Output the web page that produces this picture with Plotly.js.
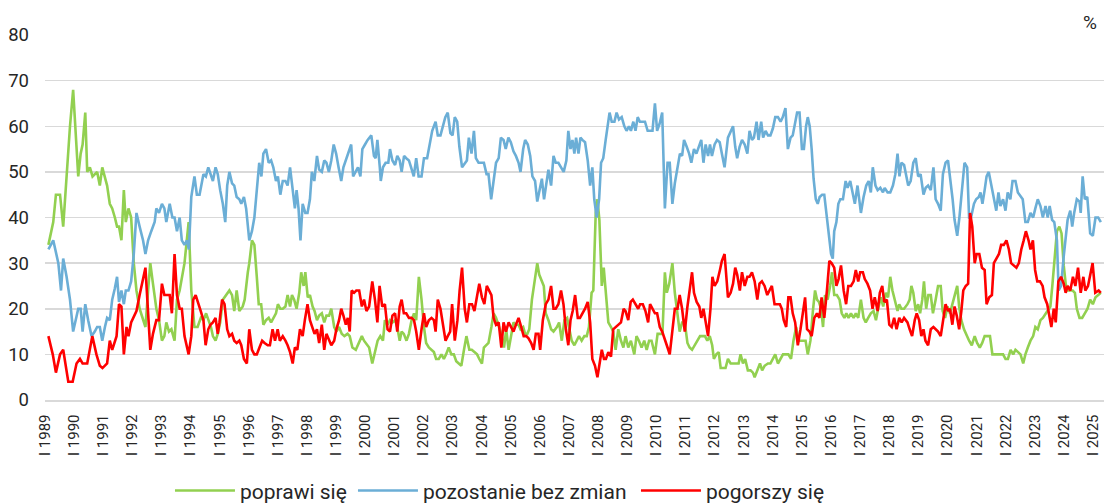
<!DOCTYPE html>
<html><head><meta charset="utf-8">
<script src="https://cdn.plot.ly/plotly-3.0.1.min.js"></script>
<style>html,body{margin:0;padding:0;background:#fff;}#chart{width:1104px;height:503px;}</style>
</head><body><div id="chart"></div>
<script>
// Month offsets since January 1989 (fractional = read position) and percent values
const seriesNames = ["poprawi się", "pozostanie bez zmian", "pogorszy się"];
const yearLabels = ["I 1989","I 1990","I 1991","I 1992","I 1993","I 1994","I 1995","I 1996","I 1997","I 1998","I 1999","I 2000","I 2001","I 2002","I 2003","I 2004","I 2005","I 2006","I 2007","I 2008","I 2009","I 2010","I 2011","I 2012","I 2013","I 2014","I 2015","I 2016","I 2017","I 2018","I 2019","I 2020","I 2021","I 2022","I 2023","I 2024","I 2025"];

const improvePts = [[1.4,34],[3.4,39],[4.5,45],[6.2,45],[7.5,38],[8.9,50],[10.3,60],[11.6,68],[13.7,49],[14.7,54],[15.5,56],[16.6,63],[17.4,50],[18.5,51],[19.6,49],[21.5,50],[22.6,47],[23.6,51],[24.7,49],[25.6,47],[26.7,43],[27.7,42],[28.8,40],[29.7,38],[30.5,38],[31.5,35],[32.5,46],[33.3,39],[34.4,42],[35.5,40],[36.6,30],[37.7,24],[39.0,20],[40.4,17.5],[41.4,16],[42.5,24],[43.4,30],[44.5,25.5],[45.9,20],[47.0,17.5],[48.2,13],[49.2,14],[50.0,17],[51.1,15],[52.1,15.5],[53.4,13],[54.4,22],[55.5,24],[57.5,30],[59.2,39],
[60.3,24],[61.6,16],[62.9,16],[64.2,18],[65.3,17.5],[66.4,19],[68.4,16],[69.2,14],[70.3,13],[71.2,14.5],[72.2,17],[73.3,22],[74.6,23],[76.0,24],[77.1,23],[78.0,19.5],[79.0,24],[80.1,19.5],[81.5,20.5],[82.3,22],[83.6,28],[84.2,30],[85.3,35],[86.3,34],[87.3,27],[88.1,21],[89.1,21],[90.0,16.5],[91.1,17.5],[92.2,18],[93.2,17],[94.1,18],[95.2,19],[96.0,21],[97.0,20],[98.0,20],[99.1,20.5],[100.0,23],[101.0,20.5],[101.8,23],[102.7,22],[103.7,20],[104.8,23.5],[105.6,28],[106.6,25],[107.3,28],[108.3,22.5],[109.2,23],[110.3,20.5],[111.1,19.5],[112.1,17.5],[113.0,18.5],[114.1,19],[115.1,17],[116.0,18.5],[117.1,18.5],[118.0,20],[119.2,16],[120.1,15],[121.2,16],[122.3,14.5],[123.4,14],[124.7,14.5],[125.6,14],[126.7,11.5],[128.1,11],[129.5,12.5],[130.6,14],[131.5,13],[132.9,12],
[133.6,11.5],[134.9,8],[136.0,10.5],[137.1,13],[138.2,14],[139.3,13],[140.1,17.5],[141.2,16.5],[142.2,17.5],[143.2,17],[144.3,17.5],[145.2,16],[146.2,13],[147.0,15],[147.9,14.5],[149.0,13],[150.0,14.5],[151.1,17.5],[152.1,19],[153.0,17.5],[154.1,27],[155.2,22],[156.2,16],[157.1,12.5],[158.2,11.5],[159.3,11],[160.3,10.5],[161.2,9],[162.3,9],[163.4,10],[164.4,9],[165.3,10],[166.4,11.5],[167.5,10],[168.5,10],[169.5,8.5],[170.5,8],[171.6,7.5],[172.7,11],[173.7,14],[174.9,11],[175.9,11],[177.0,10.5],[178.1,10],[179.0,9],[180.1,8],[180.9,11.5],[182.0,12],[182.8,12.5],[184.0,16],[184.9,19],[185.9,18],[187.0,16],[188.1,14.5],[189.2,11.5],[190.1,15.5],[191.1,11],[192.2,14.5],[193.1,17],[194.1,16.5],[195.2,16.5],[196.0,15.5],[197.1,16],[197.9,14.5],[198.8,14.5],[199.6,15.5],[200.7,22],[201.8,26],[202.9,30],[203.7,27.5],[204.8,26],[205.6,25],[206.4,19],
[207.5,17.5],[208.6,15.5],[209.6,15],[211.0,16],[211.9,17],[213.0,13],[214.1,17.5],[215.2,18],[216.2,15.5],[217.1,13],[218.2,12],[219.2,13],[220.1,14],[221.2,13],[222.3,14],[223.3,14],[224.2,16],[225.3,23.5],[226.0,24],[227.0,41],[227.7,44],[228.5,39.5],[229.5,25],[230.3,29],[231.2,22.5],[232.2,17],[233.3,16],[234.2,15],[235.2,11],[236.3,15.5],[237.4,13],[238.4,11.5],[239.3,14],[240.4,11.5],[241.5,13],[242.9,10],[243.8,14],[244.8,13],[245.9,11.5],[247.0,13],[248.0,11],[249.0,13],[250.0,13],[251.4,10],[252.5,14.5],[253.4,14.5],[254.5,14.5],[255.5,28],[256.3,23.5],[257.3,25.5],[258.6,30],[259.6,23.5],[260.7,18],[261.6,15],[262.6,17],[263.7,17],[264.8,12.5],[265.7,11.5],[266.7,11],[267.8,12],[268.9,13],[270.0,14],[270.8,14],[272.0,14],[273.0,13],[274.0,14],[275.0,12],[275.7,9],[276.7,10],[277.7,10.5],[278.5,7],[279.6,7],[280.5,7],
[281.5,9],[282.6,8],[283.7,8],[284.8,8],[285.9,8],[286.7,10],[287.7,8],[288.6,9],[289.7,6.5],[290.8,6.5],[291.8,6],[292.5,5],[293.6,6.5],[294.7,8],[295.6,6.5],[296.6,7.5],[298.0,8],[299.0,8],[300.0,9],[301.0,10],[302.1,8],[303.2,9],[304.2,10],[305.3,10],[306.4,10],[307.5,9],[308.5,13],[309.6,16],[310.6,13],[311.6,13],[312.7,13],[313.5,13],[314.4,10],[315.5,13],[316.5,19.5],[317.4,24],[318.2,22],[319.0,21.5],[319.9,20],[320.7,16],[321.5,23],[322.6,22],[323.6,25],[324.4,28],[325.3,23],[326.4,23],[327.5,22],[328.4,19],[329.5,18],[330.3,19],[331.2,18],[332.2,19],[333.3,18],[334.2,19],[335.2,18],[336.3,22],[337.4,18],[338.3,17],[339.3,18],[340.4,19],[341.5,19.5],[342.5,17.5],[343.4,20],[344.5,22.5],[345.5,20.5],[346.6,23.5],[347.5,22.5],[348.4,27],[349.3,24],[350.3,22],[351.4,19.5],[352.1,21],[353.0,20],[354.1,20],
[355.5,21],[356.4,22],[357.1,25],[357.9,23.5],[358.9,19.5],[359.9,21],[360.7,19],[361.6,22],[362.3,26],[363.2,20],[364.1,23],[365.1,23],[366.0,19],[367.1,22],[368.1,25],[369.2,25],[370.0,19.5],[371.0,18],[372.0,20.5],[373.0,19],[374.0,21],[374.9,22.5],[376.0,25],[376.8,20.5],[377.7,17.5],[378.8,15.5],[379.9,14],[380.9,13],[382.0,12],[383.2,14],[384.2,12.5],[385.3,11.5],[386.3,12.5],[387.3,14],[388.4,14],[389.5,14],[390.5,10],[391.6,10],[392.7,10],[393.8,10],[394.9,10],[395.9,9],[396.9,9],[398.0,11],[399.1,10],[400.0,11],[401.0,10.5],[402.1,10],[403.2,8],[404.1,10],[405.1,11.5],[406.2,13],[407.3,14],[408.2,16],[409.2,15.5],[410.3,17.5],[411.3,18],[412.4,19],[413.3,19.5],[414.4,20.5],[415.2,25],[416.0,30],[417.1,37],[418.1,38],[419.0,36.5],[419.9,29.5],[420.7,25.5],[421.5,24],[422.6,24],[423.6,24],[424.5,23.5],[425.3,20],[426.4,18],[427.5,18],[428.6,19],[429.7,20],[430.8,22],[431.9,21],[433.0,22.5],[434.2,23],[435.2,23.5]];

const samePts = [[1.4,33],[3.4,35],[5.5,30],[6.6,24],[7.5,31],[8.9,27],[10.3,22],[11.6,15],[13.7,20],[14.7,20],[15.5,15],[16.6,21],[17.8,17.5],[19.2,14],[20.5,15],[21.5,16],[22.6,16],[23.6,13],[24.7,16],[25.6,18],[26.7,17.5],[27.7,22],[28.8,24.5],[29.7,27],[30.5,21.5],[31.5,24],[32.5,21],[33.3,24],[34.4,24],[35.5,26],[36.6,32],[37.7,41],[39.0,38],[40.4,35],[41.4,32],[42.5,35],[43.8,37],[45.2,39],[45.9,42],[47.0,41],[48.2,43],[49.2,42],[50.0,39],[51.4,43],[52.5,40],[53.4,40],[54.4,37],[55.5,40],[56.4,35],[57.5,34],[58.5,35],[59.3,33],
[60.3,44.5],[61.6,49],[62.6,45],[63.7,45],[65.3,49.5],[66.3,49],[67.3,51],[68.2,49.5],[69.2,48],[70.3,51],[71.2,49.5],[72.2,46],[73.3,43],[74.3,39],[75.1,47],[76.0,50],[77.1,47.5],[78.0,47],[79.0,44.5],[80.1,44],[80.9,43],[82.0,44.5],[82.9,42],[84.2,35],[85.3,37],[86.3,40],[87.3,47],[88.3,52],[89.2,49],[90.0,54],[91.1,55],[92.2,52],[93.2,52.5],[94.1,51],[95.2,48],[96.0,49],[97.0,45],[98.0,48],[99.1,48],[100.0,47],[101.0,51],[102.1,46.5],[103.0,42],[103.7,46],[104.5,42],[105.3,35],[106.2,43],[107.3,41],[108.2,41],[109.2,44],[110.0,50],[111.0,48],[112.1,53.5],[113.0,50.5],[114.1,50],[115.1,52.5],[116.0,52],[117.0,50],[118.0,52.5],[119.0,56],[120.0,54],[121.0,51],[122.1,48],[123.0,51],[124.0,52.5],[125.0,54],[126.2,56],[127.0,49],[128.1,50],[129.0,51],[130.0,49],[130.8,55],[131.9,56],[133.0,57],
[134.5,58],[135.6,53.5],[136.3,53],[137.0,57],[138.0,51],[138.4,48],[139.3,51],[140.4,52],[141.5,52],[142.2,55],[143.2,52.5],[144.3,51.5],[145.2,53.5],[146.2,52.5],[147.0,50],[148.0,53.5],[148.9,53],[150.0,52.5],[150.9,51],[152.0,49],[153.0,53],[154.0,49],[155.2,49],[156.2,53],[157.5,53],[158.5,55.5],[159.6,59],[161.0,61],[161.9,58],[163.0,58],[163.9,60],[165.0,62],[166.0,63],[167.1,58.5],[168.0,58],[168.9,62],[169.9,61],[170.8,55.5],[171.9,51],[173.0,52],[173.9,52.5],[174.7,57.5],[175.8,54],[176.8,59],[177.6,53],[178.7,52],[179.8,52],[180.9,52],[182.0,49.5],[182.8,49.5],[183.9,44],[184.9,48],[185.9,52],[187.0,53],[187.9,57.5],[189.0,57],[189.9,55],[191.0,57.5],[192.0,56.5],[193.1,54.5],[194.1,53.5],[195.2,52],[196.0,50],[197.1,55],[197.9,57],[199.0,56],[200.0,53.5],[200.9,49],[202.0,48],[202.9,43.5],[203.8,46],[204.8,48.5],[205.7,44],[206.6,47.5],
[207.5,50.5],[208.6,47],[209.6,53.5],[210.5,52],[211.6,52],[212.7,51],[213.8,50],[214.9,52.5],[215.7,59],[216.6,55],[217.4,57],[218.2,54],[218.9,57.5],[219.9,54],[220.7,57.5],[221.5,57],[222.6,56.5],[223.7,52.5],[224.7,47],[225.6,51],[226.4,44],[227.4,40],[228.4,44],[229.2,52],[230.1,53],[231.1,57],[231.9,60],[232.7,63],[233.6,61],[234.7,61],[235.6,63],[236.6,61.5],[237.7,62],[238.8,60],[239.7,59],[240.7,60],[241.5,59],[242.5,61],[243.4,59],[244.3,62],[245.2,61],[246.2,61],[247.3,61],[248.4,59],[249.3,59],[250.4,59],[251.4,65],[252.3,59],[253.3,60.5],[254.4,63],[255.5,42],[256.6,52],[257.5,52],[258.6,43],[259.6,47.5],[260.8,51.5],[261.7,54],[262.6,53.5],[263.4,57],[264.5,55.5],[265.5,54],[266.4,52],[267.5,55],[268.5,54],[269.4,55.5],[270.5,57],[271.4,52],[272.3,56],[273.3,53.5],[274.1,56],[274.9,53.5],[276.0,56],[277.0,57],[278.1,56.5],[279.0,54],[280.1,51],
[281.5,57.5],[282.6,59],[283.6,60],[284.5,55.5],[285.3,53],[286.3,55.5],[287.3,57],[288.4,56],[289.5,54],[290.4,59],[291.4,57],[292.2,57.5],[293.3,61],[294.1,57],[295.2,61],[296.0,57.5],[297.0,59],[298.0,58],[299.0,58],[300.0,59.5],[301.0,62],[302.1,62],[303.2,61],[304.1,62],[305.2,64],[306.2,55],[307.3,57.5],[308.2,58],[309.2,60.5],[310.0,63],[311.0,63],[312.0,55],[312.8,55],[313.7,60],[314.4,62],[315.2,60],[316.0,55],[316.8,48.5],[317.7,44],[318.5,43],[319.3,44.5],[320.3,45],[321.2,45],[322.2,40],[323.2,35],[324.0,32],[324.7,31],[325.3,37],[326.2,39],[327.0,43],[327.8,44],[328.9,44],[330.0,48],[330.8,46.5],[331.9,48],[332.9,45.5],[333.8,43],[334.9,47],[336.3,41],[337.4,44.5],[338.5,47],[339.5,48],[340.4,45.5],[341.2,51],[342.3,47],[343.2,46],[344.3,46.5],[345.4,45.5],[346.1,46.5],[347.3,45.5],[348.4,45.5],[349.5,47],[350.5,49.5],[351.4,54],[352.2,49],[353.0,52],[354.1,51.5],
[355.8,47],[356.8,48],[357.9,52],[358.9,53],[359.9,49],[360.9,49.5],[362.1,45],[363.0,46.5],[364.0,47],[365.1,46],[366.2,51],[367.1,44],[368.1,43],[369.2,41.5],[370.1,49.5],[371.2,52],[372.2,52.5],[373.3,48],[374.1,44],[374.9,39.5],[376.0,36],[376.9,40],[378.1,47],[379.0,52],[380.1,51],[380.9,40],[381.7,40],[382.9,43],[383.8,44],[384.9,44.5],[385.6,45.5],[386.4,43],[387.3,46],[388.1,49],[389.0,50],[390.0,47.5],[391.1,44],[392.1,41.5],[393.0,45.5],[393.8,42.5],[394.9,44],[395.9,41.5],[396.8,45.5],[397.9,44],[398.8,48],[400.0,48],[401.0,45.5],[402.1,44.5],[403.0,44],[404.1,39],[405.1,39],[406.2,41],[407.3,40],[408.2,42],[409.2,44],[410.3,42.5],[411.3,40],[412.4,42.5],[413.3,40],[414.1,42.5],[415.1,39.5],[416.0,39],[417.1,35],[417.8,24],[418.8,25],[419.9,31.5],[420.7,35],[421.5,39.5],[422.6,41.5],[423.4,38],[424.2,41],[425.3,44],[426.4,43.5],[426.9,41],[427.7,49],[428.6,44],[429.6,44.5],[430.8,36.5],[431.9,36],[433.0,40],[434.1,40],[435.2,39]];

const worsePts = [[1.4,14],[3.2,10],[4.5,6],[6.2,10],[7.5,11],[9.6,4],[11.4,4],[13.0,8],[14.4,9],[15.5,8],[17.4,8],[19.5,14],[21.2,10],[22.6,7.5],[23.7,7],[25.6,8],[26.7,13],[27.7,11],[29.5,14],[30.5,21],[31.5,20.5],[32.5,10],[33.6,16],[34.4,14],[35.5,17],[37.7,19.5],[39.0,23],[41.4,29],[43.4,11],[44.5,14.5],[45.9,17.5],[47.0,17.5],[48.2,25.5],[49.2,23],[50.0,23],[51.4,23],[52.3,19],[53.4,32],[54.4,23],[55.5,20],[56.4,20],[57.5,14],[59.2,10],
[60.3,14],[61.1,22],[62.1,23],[64.2,19.5],[65.3,17.5],[66.2,12],[67.3,15.5],[68.2,16.5],[69.2,17],[70.3,18],[71.2,14.5],[71.9,17],[73.0,22],[74.0,21],[75.1,15.5],[76.0,14],[77.1,14.5],[78.0,13],[79.0,12.5],[80.1,13],[80.9,12],[82.0,9],[83.2,8],[84.2,15.5],[85.3,11],[86.3,10],[87.3,10],[88.4,11.5],[89.5,13],[90.5,12.5],[91.8,12],[92.7,12],[93.8,15.5],[94.8,13],[95.9,15.5],[96.8,13],[98.0,14],[99.1,13],[100.0,12],[101.0,10.5],[102.1,8],[103.0,11.5],[104.0,11],[105.1,15.5],[106.2,14],[107.1,17.5],[108.2,21],[109.2,17.5],[110.3,15.5],[111.1,14.5],[112.1,15.5],[113.0,12.5],[114.1,16.5],[115.1,11],[116.0,14.5],[117.1,13],[118.0,12],[119.2,13],[120.1,15.5],[121.2,17.5],[122.1,20],[123.0,18.5],[124.0,16.5],[124.8,18],[125.6,15],[126.4,24],[127.4,23.5],[128.3,24],[129.5,24],[130.6,20.5],[131.5,22],[132.5,19.5],
[133.6,20.5],[134.9,26],[136.0,22],[137.0,17],[137.9,25],[139.0,20.5],[140.1,21],[141.2,15.5],[142.2,15],[143.2,18.5],[144.3,19],[145.2,15],[146.2,20.5],[147.0,22],[147.9,19],[148.9,19],[150.0,18],[151.1,18],[152.1,17.5],[153.0,15],[154.1,11],[155.2,15.5],[156.2,19],[157.1,16],[158.2,17.5],[159.3,18],[160.3,17.5],[161.0,15],[161.9,22],[163.0,20],[164.0,17],[165.1,13],[166.0,14],[167.0,15],[167.8,21],[168.9,13],[170.0,17.5],[170.9,24],[171.9,29],[173.0,20],[173.9,17],[174.9,21],[176.0,21],[177.0,19.5],[178.0,22.5],[179.0,25.5],[180.1,22.5],[181.1,21],[182.1,25],[182.9,24],[184.0,23],[184.9,18],[185.9,16.5],[187.0,17],[188.1,11.5],[189.0,17],[190.0,15],[191.1,17],[192.2,16],[193.1,15],[194.1,16.5],[195.2,18],[196.3,16],[197.3,14],[198.4,14],[199.3,13.5],[200.4,12.5],[201.4,11],[202.3,14.5],[203.4,14.5],[204.1,11],[205.2,17.5],[206.4,21],
[207.5,22],[208.6,25],[209.6,20],[210.5,20],[211.6,21],[212.7,24],[213.7,21],[214.7,15.5],[215.7,12],[216.6,17.5],[217.5,19.5],[218.5,23],[219.6,18],[220.5,18],[221.5,19],[222.6,20],[223.7,21.5],[224.7,17],[225.6,9],[226.7,7.5],[227.7,5],[228.6,8],[229.5,11],[230.4,9],[231.2,9],[232.2,10.5],[233.3,9.5],[234.2,15.5],[235.2,16],[236.3,16.5],[237.4,17],[238.5,20],[239.3,19.5],[240.4,17.5],[241.4,21.5],[242.3,22],[243.4,21],[244.5,20],[245.3,21],[246.4,21],[247.5,19.5],[248.6,17],[249.4,21],[250.4,20],[251.4,19],[252.3,19],[253.4,16],[254.4,15],[255.5,13],[256.6,11.5],[257.5,10],[258.5,15.5],[259.6,20],[260.7,20],[261.6,23],[262.6,20],[263.7,15],[264.8,20.5],[265.7,24.5],[266.7,28],[267.5,23.5],[268.6,21.5],[269.7,20.5],[270.5,18],[271.4,20],[272.3,17.5],[273.3,14],[274.3,20],[275.1,27],[276.0,25],[277.1,26],[278.2,28.5],[279.0,30.5],[280.1,32],
[281.5,22.5],[282.6,23.5],[283.6,25.5],[284.5,29],[285.3,27.5],[286.4,24],[287.3,28],[288.4,25],[289.5,27],[290.4,27],[291.4,28],[292.5,26],[293.6,22],[294.5,25.5],[295.5,26],[296.6,25],[297.7,23],[298.6,24],[299.6,25],[300.7,21],[301.8,21],[302.9,21],[303.7,20],[304.5,17.5],[305.5,16],[306.4,22.5],[307.3,22.5],[308.2,19],[309.2,17],[310.3,12],[311.4,15.5],[312.3,19],[313.3,22.5],[314.1,15.5],[315.1,15],[316.0,14],[317.1,18],[318.2,19],[319.2,18],[320.1,22.5],[321.2,18],[322.3,24],[323.3,30.5],[324.2,30],[325.3,29],[326.2,25],[327.1,26.5],[328.1,29.5],[329.2,24],[330.2,21],[331.1,25],[332.2,25],[333.3,26],[334.2,28.5],[335.2,26],[336.0,28],[337.1,28],[337.9,26.5],[339.0,25.5],[340.1,24],[341.1,20],[342.0,22.5],[343.2,19.5],[344.1,23.5],[345.1,25],[345.9,21.5],[347.0,22],[348.0,16.5],[349.0,16],[350.0,18],[351.0,15.5],[352.1,18],[353.1,17],[354.1,18],
[355.5,17],[356.4,15.5],[357.4,14],[358.5,17.5],[359.3,19],[360.3,17.5],[361.2,14],[362.1,15.5],[362.9,13],[364.0,12],[365.1,15.5],[366.2,16],[367.1,15.5],[368.1,15],[369.2,14],[370.3,18.5],[371.2,21],[372.2,19.5],[373.0,20],[374.0,16.5],[374.9,20.5],[375.8,18.5],[376.8,15.5],[377.7,19.5],[378.5,24],[379.5,25],[380.5,25.5],[381.3,41],[382.2,38],[383.2,30],[384.0,32],[385.1,32],[386.2,29],[387.3,28.5],[388.1,21],[389.2,22.5],[390.3,23],[391.1,30],[392.2,31],[393.2,32],[394.1,34],[395.2,34],[396.3,35],[397.3,33],[398.2,30],[399.3,29.5],[400.4,29],[401.4,30],[402.4,33],[403.4,35],[404.3,37],[405.4,35],[406.2,33],[407.2,35],[408.1,28.5],[409.0,26],[410.1,26],[411.2,25],[412.0,22.5],[413.1,21],[413.9,19],[414.8,16],[415.8,20],[416.6,17],[417.7,26],[418.8,27],[419.9,25.5],[420.7,23.5],[421.5,25],[422.6,24],[423.7,27],[424.7,25],[425.8,29],[426.9,23.5],[428.0,27],[428.8,24],[429.9,25],[430.7,27],[431.8,30],[432.9,23.5],[434.3,24],[435.2,23.5]];

const colors = ["#92d050", "#6baed6", "#ff0000"];
const allPts = [improvePts, samePts, worsePts];
const legendWidths = [108, 208, 125];

const traces = allPts.map((pts, i) => ({
  type: "scatter",
  mode: "lines",
  name: seriesNames[i],
  x: pts.map(p => p[0]),
  y: pts.map(p => p[1]),
  line: { color: colors[i], width: 2.6 },
  legendwidth: legendWidths[i],
  hoverinfo: "skip"
}));

const tickVals = yearLabels.map((_, i) => i * 12);

const layout = {
  width: 1104, height: 503,
  margin: { l: 45, r: 0, t: 35, b: 103, autoexpand: false },
  paper_bgcolor: "#ffffff", plot_bgcolor: "#ffffff",
  font: { family: "Roboto, 'Open Sans', sans-serif", color: "#262626" },
  showlegend: true,
  xaxis: {
    range: [0, 436.5], tickmode: "array", tickvals: tickVals, ticktext: yearLabels,
    tickangle: -90, tickfont: { size: 15 }, showgrid: false, zeroline: false,
    showline: true, linecolor: "#d9d9d9", linewidth: 1.5, ticks: "", ticklabelstandoff: 7,
    ticklabeloverflow: "allow", fixedrange: true
  },
  yaxis: {
    range: [0, 80], tickmode: "linear", tick0: 0, dtick: 10,
    gridcolor: "#d9d9d9", gridwidth: 1.5, zeroline: false, showline: false,
    tickfont: { size: 18.5 }, ticks: "", ticklabelstandoff: 15, fixedrange: true
  },
  legend: {
    orientation: "h", x: 0.118, xanchor: "left", y: -0.249, yanchor: "middle",
    itemwidth: 60,
    font: { size: 21 }, bgcolor: "rgba(0,0,0,0)", traceorder: "normal"
  },
  annotations: [{
    text: "%", xref: "paper", yref: "paper", x: 0.9868, y: 1.034,
    xanchor: "center", yanchor: "middle", showarrow: false, font: { size: 19 }
  }]
};

Plotly.newPlot("chart", traces, layout, { staticPlot: true, displayModeBar: false });
</script>
</body></html>
